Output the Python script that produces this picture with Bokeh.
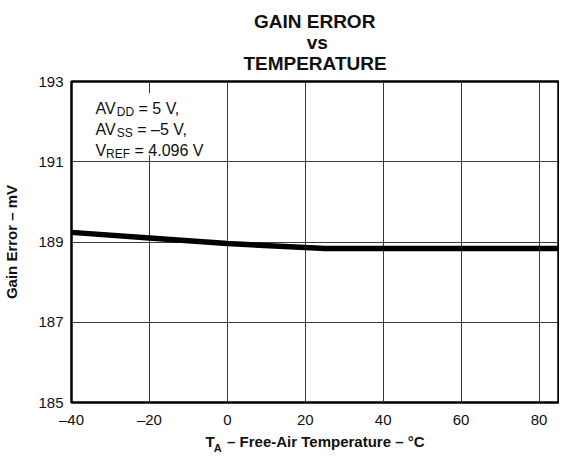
from bokeh.plotting import figure
from bokeh.models import (Range1d, FixedTicker, Label, BoxAnnotation, Title,
                          LinearAxis)
from bokeh.embed import file_html
from bokeh.resources import INLINE

# ---- data ----
temperature_c = [-40, -20, 0, 20, 25, 40, 60, 85]
gain_error_mv = [189.24, 189.10, 188.96, 188.86, 188.84, 188.84, 188.84, 188.84]
x_ticks = [-40, -20, 0, 20, 40, 60, 80]
y_ticks = [185, 187, 189, 191, 193]
title_lines = ["GAIN ERROR", "vs", "TEMPERATURE"]
title_pad = [2, 12, 0]          # no-break spaces used to centre each title line
y_label = "Gain Error \u2013 mV"
x_label_main = "T\u00a0\u00a0 \u2013 Free-Air Temperature \u2013 \u00b0C"
x_label_sub = "A"
x_label_sub_at = -2.5           # x position (data units) of the subscript
cond_lines = [("AV", "DD", "= 5 V,"), ("AV", "SS", "= \u20135 V,"), ("V", "REF", "= 4.096 V")]

X0, X1 = -40, 85
Y0, Y1 = 185, 193

W, H = 559, 456
FL, FR, FT, FB = 70, 558, 80, 406  # frame edges in canvas px

FONT = "Liberation Sans"
TXT = "#111111"

p = figure(width=W, height=H, output_backend="svg", toolbar_location=None,
           x_range=Range1d(X0, X1), y_range=Range1d(Y0, Y1),
           min_border_left=FL, min_border_right=W - FR,
           min_border_top=FT, min_border_bottom=H - FB)
p.background_fill_color = "white"
p.border_fill_color = "white"
p.outline_line_color = "black"
p.outline_line_width = 2.5

def dx(px):  # px from frame left
    return X0 + px * (X1 - X0) / (FR - FL)

def dy(py):  # px from frame top
    return Y1 - py * (Y1 - Y0) / (FB - FT)

title_text = "\n".join("\u00a0" * n + t for n, t in zip(title_pad, title_lines))
p.add_layout(Title(text=title_text, align="center", text_font=FONT,
                   text_font_size="19px", text_font_style="bold", text_color=TXT,
                   text_line_height=1.0, standoff=16), "above")

for ax in (p.xaxis, p.yaxis):
    ax.axis_line_color = None
    ax.major_tick_line_color = None
    ax.minor_tick_line_color = None
    ax.major_tick_out = 0
    ax.major_tick_in = 0
    ax.minor_tick_out = 0
    ax.minor_tick_in = 0
    ax.major_label_text_font = FONT
    ax.major_label_text_font_size = "15px"
    ax.major_label_text_color = TXT
    ax.major_label_standoff = 8
    ax.axis_label_text_font = FONT
    ax.axis_label_text_font_size = "15px"
    ax.axis_label_text_font_style = "bold"
    ax.axis_label_text_color = TXT

p.yaxis.axis_label = y_label
p.yaxis.axis_label_standoff = 15
p.xaxis.axis_label = x_label_main
p.xaxis.axis_label_standoff = 2

p.xaxis.ticker = FixedTicker(ticks=x_ticks)
p.yaxis.ticker = FixedTicker(ticks=y_ticks)
p.xaxis.major_label_overrides = {t: (f"\u2013{abs(t)}" if t < 0 else str(t)) for t in x_ticks}

# subscript "A" of T_A, drawn as the single label of a bare extra axis
sub_axis = LinearAxis(ticker=FixedTicker(ticks=[x_label_sub_at]),
                      major_label_overrides={x_label_sub_at: x_label_sub},
                      axis_line_color=None, major_tick_line_color=None,
                      minor_tick_line_color=None, major_tick_out=0, major_tick_in=0,
                      minor_tick_out=0, minor_tick_in=0, major_label_standoff=-11,
                      major_label_text_font=FONT, major_label_text_font_size="11px",
                      major_label_text_font_style="bold", major_label_text_color=TXT)
p.add_layout(sub_axis, "below")

p.xgrid.ticker = FixedTicker(ticks=x_ticks)
p.ygrid.ticker = FixedTicker(ticks=y_ticks)
for g in (p.xgrid, p.ygrid):
    g.grid_line_color = "#3a3a3a"
    g.grid_line_width = 1

p.line(temperature_c, gain_error_mv, line_color="black", line_width=5.5, line_cap="round")

# white box behind the conditions text
p.add_layout(BoxAnnotation(left=dx(2), right=dx(142), top=dy(12), bottom=dy(75),
                           fill_color="white", fill_alpha=1.0, line_color=None))

def lab(x, y, text, size):
    p.add_layout(Label(x=dx(x), y=dy(y), text=text, text_font=FONT,
                       text_font_size=f"{size}px", text_align="left",
                       text_baseline="alphabetic", text_color=TXT))

# conditions (with subscripts)
W16 = {"A": .667, "V": .667}
SUBW = {"D": .722, "S": .667, "R": .722, "E": .667, "F": .611}
for i, (a, sub, rest) in enumerate(cond_lines):
    base = 27 + 21.5 * i
    x = 24
    lab(x, base, a, 16)
    x += sum(W16[c] for c in a) * 16
    lab(x, base + 4, sub, 12)
    x += sum(SUBW[c] for c in sub) * 12 + 4.5
    lab(x, base, rest, 16)

open("out.html", "w").write(file_html(p, INLINE))
